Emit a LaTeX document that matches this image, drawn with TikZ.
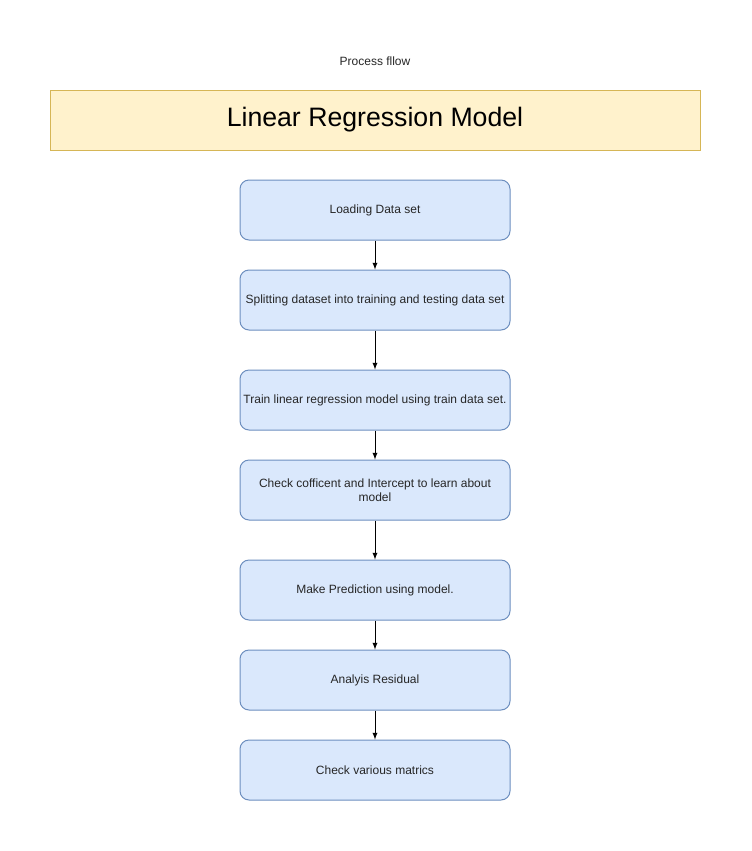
\documentclass[tikz,border=0pt]{standalone}
\usepackage{fontspec}
\setmainfont{Liberation Sans}

\definecolor{stepfill}{HTML}{DAE8FC}
\definecolor{stepline}{HTML}{6C8EBF}
\definecolor{titlefill}{HTML}{FFF2CC}
\definecolor{titleline}{HTML}{D6B656}

\begin{document}
\begin{tikzpicture}[> = latex, x = 0.75pt, y = -0.75pt,
	stepbox/.style = {draw = stepline, fill = stepfill, line width = 0.75pt,
		rounded corners = 6.75pt, minimum width = 202.5pt, minimum height = 45pt,
		inner sep = 1pt, align = center, font = \fontsize{9pt}{10.5pt}\selectfont,
		text = black!85},
	titlebox/.style = {draw = titleline, fill = titlefill, line width = 0.75pt,
		minimum width = 487.5pt, minimum height = 45pt,
		font = \fontsize{20pt}{24pt}\selectfont}]

% Page

\useasboundingbox (0, 0) rectangle (751, 851);

% Heading

\node [font = \fontsize{9pt}{11pt}\selectfont, text = black!85] (caption) at (375, 61) {Process fllow};
\node [titlebox] (title) at (375, 120) {Linear Regression Model};

% Steps

\node [stepbox] (load) at (375, 210) {Loading Data set};
\node [stepbox] (split) at (375, 300) {Splitting dataset into training and testing data set};
\node [stepbox] (train) at (375, 400) {Train linear regression model using train data set.};
\node [stepbox] (coef) at (375, 490) {Check cofficent and Intercept to learn about\\model};
\node [stepbox] (predict) at (375, 590) {Make Prediction using model.};
\node [stepbox] (resid) at (375, 680) {Analyis Residual};
\node [stepbox] (metric) at (375, 770) {Check various matrics};

% Arrows

\draw [->, line width = 0.75pt] (load) -- (split);
\draw [->, line width = 0.75pt] (split) -- (train);
\draw [->, line width = 0.75pt] (train) -- (coef);
\draw [->, line width = 0.75pt] (coef) -- (predict);
\draw [->, line width = 0.75pt] (predict) -- (resid);
\draw [->, line width = 0.75pt] (resid) -- (metric);

\end{tikzpicture}
\end{document}
